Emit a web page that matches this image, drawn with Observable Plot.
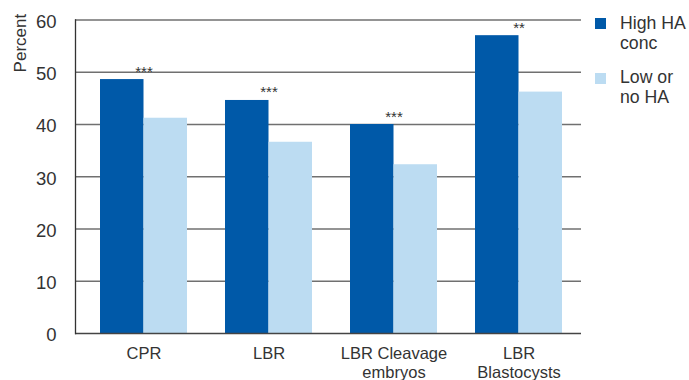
<!DOCTYPE html>
<html>
<head>
<meta charset="utf-8">
<script src="https://cdn.jsdelivr.net/npm/d3@7"></script>
<script src="https://cdn.jsdelivr.net/npm/@observablehq/plot@0.6"></script>
<style>
  body { margin: 0; background: #fff; }
  #wrap { position: relative; width: 689px; height: 380px; font-family: "Liberation Sans", Arial, sans-serif; color: #333; }
  .sw { position: absolute; width: 11px; height: 11px; }
  .lt { position: absolute; font-size: 17.7px; line-height: 20px; white-space: nowrap; }
</style>
</head>
<body>
<div id="wrap"></div>
<script>
const categories = ["CPR", "LBR", "LBR Cleavage embryos", "LBR Blastocysts"];
const tickLabels = ["CPR", "LBR", "LBR Cleavage\nembryos", "LBR\nBlastocysts"];
const highHA = [48.6, 44.6, 40.0, 57.0];
const lowHA = [41.2, 36.6, 32.3, 46.2];
const significance = ["***", "***", "***", "**"];
const yTicks = [0, 10, 20, 30, 40, 50, 60];
const seriesNames = ["High HA\nconc", "Low or\nno HA"];
const dark = "#0059a8";
const light = "#bcdcf2";

const data = categories.map((c, i) => ({category: c, high: highHA[i], low: lowHA[i], sig: significance[i]}));

const chart = Plot.plot({
  width: 689,
  height: 380,
  marginLeft: 75,
  marginRight: 108,
  marginTop: 19.5,
  marginBottom: 47,
  style: {fontFamily: "Liberation Sans, Arial, sans-serif", fontSize: "16.5px", color: "#333", background: "#fff"},
  x: {domain: categories, paddingInner: 0.304, paddingOuter: 0.176, align: 0.57, label: null},
  y: {domain: [0, 60], label: null},
  marks: [
    Plot.ruleY(yTicks.filter(t => t > 0), {stroke: "#707070", strokeWidth: 1.3}),
    Plot.barY(data, {x: "category", y: "high", fill: dark, insetRight: 43.5}),
    Plot.barY(data, {x: "category", y: "low", fill: light, insetLeft: 43.5}),
    Plot.ruleY([0], {stroke: "#444", strokeWidth: 1.3}),
    Plot.frame({anchor: "left", stroke: "#333", strokeWidth: 1.3}),
    Plot.axisY({ticks: yTicks, tickSize: 0, tickPadding: 19, fontSize: 18.5, dy: 2, label: null}),
    Plot.axisX({tickSize: 0, tickPadding: 12, lineHeight: 1.16, fontSize: 16.5, label: null,
      tickFormat: d => tickLabels[categories.indexOf(d)]}),
    Plot.text(data, {x: "category", y: "high", text: "sig", dy: -3, lineAnchor: "bottom", fontSize: 15, fill: "#333"}),
    Plot.text(["Percent"], {frameAnchor: "top-left", rotate: -90, textAnchor: "end", lineAnchor: "bottom", dx: -50, dy: -6.2, fontSize: 17, fill: "#333"})
  ]
});

const wrap = document.getElementById("wrap");
chart.style.position = "absolute";
chart.style.left = "0";
chart.style.top = "0";
wrap.appendChild(chart);

const legendColors = [dark, light];
const swTops = [18, 73];
const txtTops = [13.2, 67.2];
seriesNames.forEach((name, i) => {
  const sw = document.createElement("div");
  sw.className = "sw";
  sw.style.left = "595px";
  sw.style.top = swTops[i] + "px";
  sw.style.background = legendColors[i];
  wrap.appendChild(sw);
  const t = document.createElement("div");
  t.className = "lt";
  t.style.left = "620px";
  t.style.top = txtTops[i] + "px";
  t.innerHTML = name.replace("\n", "<br>");
  wrap.appendChild(t);
});
</script>
</body>
</html>
